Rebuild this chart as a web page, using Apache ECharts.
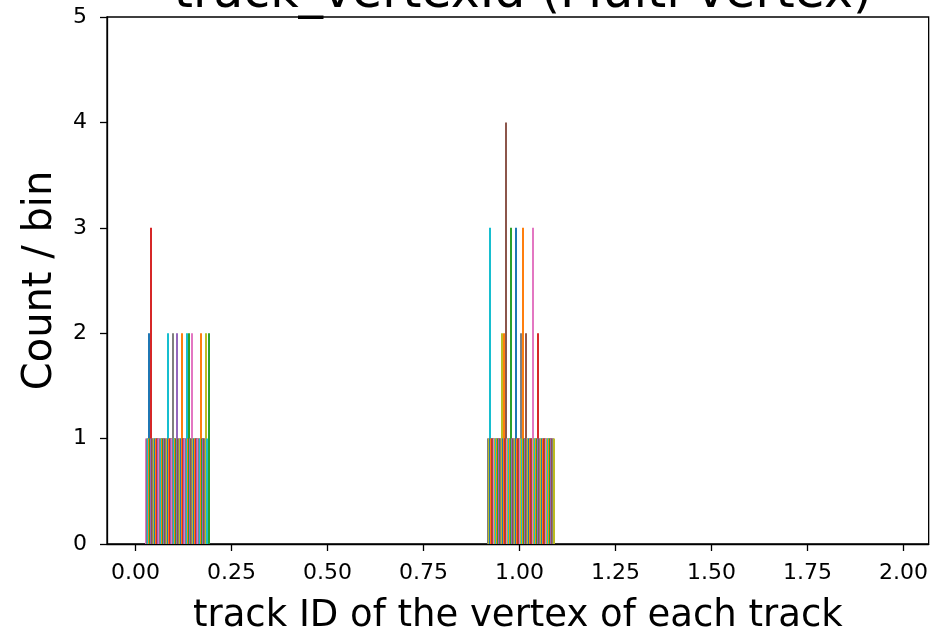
<!DOCTYPE html>
<html>
<head>
<meta charset="utf-8">
<script src="https://cdn.jsdelivr.net/npm/echarts@6/dist/echarts.min.js"></script>
<style>
  html, body { margin: 0; padding: 0; background: #fff; }
  #chart { width: 931px; height: 640px; }
</style>
</head>
<body>
<div id="chart"></div>
<script>
// 9 equal bins between 0 and 2
const binEdges = [0, 0.2222, 0.4444, 0.6667, 0.8889, 1.1111, 1.3333, 1.5556, 1.7778, 2.0];
const xTickValues = [0, 0.25, 0.5, 0.75, 1.0, 1.25, 1.5, 1.75, 2.0];

// one count per dataset (105 datasets) in the bin [0, 0.222)
const firstBinCounts = [
  0, 0, 1, 1, 1, 1, 2, 1, 1, 3,
  1, 1, 1, 1, 1, 1, 1, 1, 1, 1,
  1, 1, 1, 1, 1, 1, 1, 1, 1, 1,
  1, 1, 1, 1, 1, 2, 1, 1, 1, 1,
  1, 1, 1, 2, 1, 1, 1, 1, 1, 1,
  2, 1, 1, 1, 1, 1, 1, 2, 1, 1,
  1, 1, 1, 1, 1, 2, 1, 1, 2, 1,
  1, 1, 2, 1, 1, 1, 1, 1, 1, 1,
  1, 1, 1, 1, 1, 1, 1, 2, 1, 1,
  1, 1, 1, 1, 2, 1, 0, 0, 2, 0,
  0, 0, 0, 0, 0
];

// and in the bin [0.889, 1.111)
const fifthBinCounts = [
  0, 0, 1, 1, 1, 3, 1, 1, 1, 1,
  1, 1, 1, 1, 1, 1, 1, 1, 1, 1,
  1, 1, 1, 1, 2, 1, 1, 2, 1, 1,
  1, 4, 1, 1, 1, 1, 1, 1, 3, 1,
  1, 1, 1, 1, 1, 1, 3, 1, 1, 1,
  1, 1, 1, 2, 1, 1, 1, 3, 1, 1,
  1, 2, 1, 1, 1, 1, 1, 1, 1, 1,
  1, 1, 3, 1, 1, 1, 1, 1, 1, 2,
  1, 1, 1, 1, 1, 1, 1, 1, 1, 1,
  1, 1, 1, 1, 1, 1, 1, 1, 1, 1,
  1, 1, 1, 1, 1
];

const tab10 = ['#1f77b4', '#ff7f0e', '#2ca02c', '#d62728', '#9467bd',
               '#8c564b', '#e377c2', '#7f7f7f', '#bcbd22', '#17becf'];
const cycleStart = 4;
const font = 'DejaVu Sans';
const ink = '#000';

const datasetCount = firstBinCounts.length;
const items = [];
[[0, firstBinCounts], [4, fifthBinCounts]].forEach(([bin, counts]) => {
  counts.forEach((c, i) => {
    if (c > 0) items.push([bin, i, c]);
  });
});

// side by side bars like matplotlib's multi-dataset hist
function renderBar(params, api) {
  const bin = api.value(0);
  const i = api.value(1);
  const count = api.value(2);
  const lo = binEdges[bin];
  const bw = binEdges[bin + 1] - lo;
  const slot = 0.8 * bw / datasetCount;
  const x0 = lo + 0.1 * bw + i * slot;
  const top = api.coord([x0, count]);
  const base = api.coord([x0 + slot, 0]);
  return {
    type: 'rect',
    shape: {
      x: Math.round(top[0]),
      y: top[1],
      width: Math.max(2, Math.round(base[0] - top[0])),
      height: base[1] - top[1]
    },
    style: { fill: tab10[(i + cycleStart) % 10] }
  };
}

const chart = echarts.init(document.getElementById('chart'), null, { renderer: 'canvas' });

chart.setOption({
  backgroundColor: '#fff',
  animation: false,
  title: {
    text: 'track_vertexId (Multi-vertex)',
    left: 518,
    textAlign: 'center',
    top: -35,
    textStyle: { fontFamily: font, fontSize: 49, fontWeight: 'normal', color: ink }
  },
  grid: {
    left: 107, right: 2, top: 17, bottom: 87,
    show: true, borderColor: ink, borderWidth: 1.3, backgroundColor: 'transparent'
  },
  xAxis: {
    type: 'value',
    min: -0.0739,
    max: 2.0655,
    name: 'track ID of the vertex of each track',
    nameLocation: 'middle',
    nameGap: 54,
    nameTextStyle: { fontFamily: font, fontSize: 37, color: ink },
    axisLine: { show: true, onZero: false, lineStyle: { color: ink, width: 1.3 } },
    axisTick: { show: true, customValues: xTickValues, length: 7, lineStyle: { color: ink, width: 1.3 } },
    axisLabel: {
      customValues: xTickValues,
      formatter: v => v.toFixed(2),
      margin: 18,
      fontFamily: font, fontSize: 22, color: ink
    },
    splitLine: { show: false }
  },
  yAxis: {
    type: 'value',
    min: 0,
    max: 5,
    interval: 1,
    name: 'Count / bin',
    nameLocation: 'middle',
    nameGap: 46,
    nameTextStyle: { fontFamily: font, fontSize: 40, color: ink },
    axisLine: { show: true, onZero: false, lineStyle: { color: ink, width: 1.3 } },
    axisTick: { show: true, length: 7, lineStyle: { color: ink, width: 1.3 } },
    axisLabel: { margin: 20, fontFamily: font, fontSize: 22, color: ink },
    splitLine: { show: false }
  },
  series: [{
    type: 'custom',
    renderItem: renderBar,
    encode: { x: -1, y: 2 },
    data: items
  }]
});
</script>
</body>
</html>
